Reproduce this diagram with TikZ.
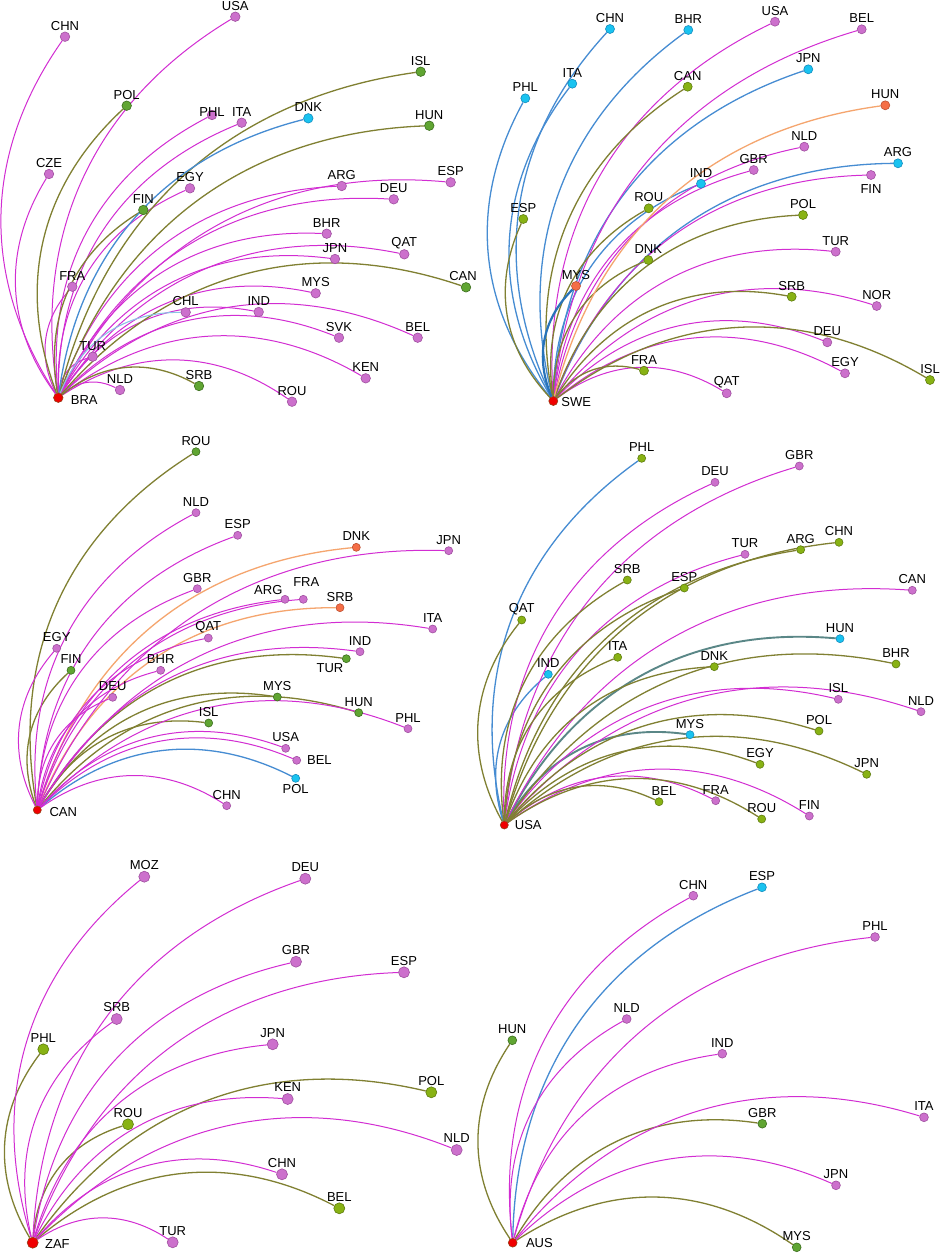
\documentclass[tikz,border=0pt]{standalone}
\usepackage{fontspec}
\setmainfont{Liberation Sans}
\pgfdeclarelayer{bgw}
\pgfdeclarelayer{edges}
\pgfsetlayers{bgw,edges,main}
\definecolor{pkf}{RGB}{204,112,204}
\definecolor{pkd}{RGB}{160,80,160}
\definecolor{dgf}{RGB}{96,165,50}
\definecolor{dgd}{RGB}{60,110,30}
\definecolor{ygf}{RGB}{136,178,20}
\definecolor{ygd}{RGB}{95,125,15}
\definecolor{blf}{RGB}{25,195,240}
\definecolor{bld}{RGB}{20,140,190}
\definecolor{orf}{RGB}{245,110,70}
\definecolor{ord}{RGB}{190,80,50}
\definecolor{rtf}{RGB}{240,0,0}
\definecolor{rtd}{RGB}{150,60,20}
\definecolor{emgc}{RGB}{210,45,210}
\definecolor{eolc}{RGB}{128,128,50}
\definecolor{eblc}{RGB}{70,140,210}
\definecolor{eorc}{RGB}{245,165,110}
\definecolor{elbc}{RGB}{140,195,230}
\definecolor{etlc}{RGB}{90,135,135}
\definecolor{ebtc}{RGB}{40,115,185}
\newcommand{\ctry}[5][0,11]{\node[#2] (#3) at (#4) {}; \node[lbl, shift={(#1)}] at (#4) {#5};}
\tikzset{
  nsz/.style={minimum size=4.5pt},
  nd/.style={circle,inner sep=0pt,line width=0.3pt,nsz},
  pk/.style={nd,fill=pkf,draw=pkd},
  dg/.style={nd,fill=dgf,draw=dgd},
  yg/.style={nd,fill=ygf,draw=ygd},
  bl/.style={nd,fill=blf,draw=bld},
  orn/.style={nd,fill=orf,draw=ord},
  rt/.style={nd,fill=rtf,draw=rtd},
  lbl/.style={font=\fontsize{6.5}{7.5}\selectfont,inner sep=0pt,text=black},
  bnd/.style={bend left=34},
  emg/.style={draw=emgc,line width=0.5pt},
  eol/.style={draw=eolc,line width=0.65pt},
  ebl/.style={draw=eblc,line width=0.65pt},
  eor/.style={draw=eorc,line width=0.65pt},
  elb/.style={draw=elbc,line width=0.55pt},
  etl/.style={draw=etlc,line width=0.95pt},
  ebt/.style={draw=ebtc,line width=1.1pt}
}
\begin{document}
\begin{tikzpicture}[x=0.5pt,y=0.5pt]
\useasboundingbox (0,0) rectangle (941,-1254);
\begin{pgfonlayer}{bgw}
\fill[white] (0,0) rectangle (941,-1254);
\end{pgfonlayer}

% ---------------- Panel a: BRA
\begin{scope}[nsz/.style={minimum size=4.75pt}]
\ctry[26,-2]{rt}{aBRA}{58.3,-397.7}{BRA}
\ctry{pk}{aCHN}{65,-36.7}{CHN}
\ctry{pk}{aUSA}{235.3,-16.7}{USA}
\ctry{dg}{aPOL}{126.7,-105.7}{POL}
\ctry{pk}{aCZE}{49,-174}{CZE}
\ctry[0,2.5]{pk}{aPHL}{212,-115}{PHL}
\ctry{pk}{aITA}{241.7,-122.7}{ITA}
\ctry{bl}{aDNK}{308.3,-118.3}{DNK}
\ctry{dg}{aISL}{420.7,-71.7}{ISL}
\ctry{dg}{aHUN}{429.3,-125.7}{HUN}
\ctry{pk}{aEGY}{190,-188.3}{EGY}
\ctry{dg}{aFIN}{143.3,-210}{FIN}
\ctry{pk}{aARG}{341.7,-186}{ARG}
\ctry{pk}{aESP}{450.7,-182.3}{ESP}
\ctry{pk}{aDEU}{393.7,-199.3}{DEU}
\ctry{pk}{aBHR}{326.7,-233.7}{BHR}
\ctry{pk}{aJPN}{335,-259}{JPN}
\ctry{pk}{aQAT}{404.3,-254.3}{QAT}
\ctry[-3,11]{dg}{aCAN}{466,-287.3}{CAN}
\ctry{pk}{aMYS}{315.7,-293.3}{MYS}
\ctry{pk}{aFRA}{72.3,-286.7}{FRA}
\ctry{pk}{aCHL}{185.7,-312.3}{CHL}
\ctry{pk}{aIND}{258.7,-312}{IND}
\ctry{pk}{aSVK}{339,-337.7}{SVK}
\ctry{pk}{aBEL}{417.7,-337.7}{BEL}
\ctry{pk}{aTUR}{92.7,-356.7}{TUR}
\ctry{pk}{aKEN}{365.7,-378.3}{KEN}
\ctry{pk}{aNLD}{120,-390}{NLD}
\ctry{dg}{aSRB}{199,-386}{SRB}
\ctry{pk}{aROU}{292,-401.7}{ROU}
\begin{pgfonlayer}{edges}
\foreach \t in {CHN,USA,CZE,PHL,ITA,EGY,ARG,ESP,DEU,BHR,JPN,QAT,MYS,FRA,IND,SVK,BEL,TUR,KEN,NLD,ROU}
  \draw[emg] (aBRA) to[bnd] (a\t);
\foreach \t in {POL,ISL,HUN,FIN,CAN,SRB}
  \draw[eol] (aBRA) to[bnd] (a\t);
\draw[ebl] (aBRA) to[bnd] (aDNK);
\draw[elb] (aBRA) to[bnd] (aCHL);
\end{pgfonlayer}
\end{scope}

% ---------------- Panel b: SWE
\begin{scope}[nsz/.style={minimum size=4.5pt}]
\ctry[23,-1]{rt}{bSWE}{553.3,-401}{SWE}
\ctry{bl}{bCHN}{610,-29}{CHN}
\ctry{bl}{bBHR}{688.3,-30}{BHR}
\ctry{pk}{bUSA}{775,-21.7}{USA}
\ctry{pk}{bBEL}{861.7,-29.3}{BEL}
\ctry{bl}{bPHL}{525.3,-98.3}{PHL}
\ctry{bl}{bITA}{572.3,-83.7}{ITA}
\ctry{yg}{bCAN}{687.7,-86.7}{CAN}
\ctry{bl}{bJPN}{808.3,-69.3}{JPN}
\ctry{orn}{bHUN}{885.3,-105.3}{HUN}
\ctry{pk}{bNLD}{804.3,-146.7}{NLD}
\ctry{pk}{bGBR}{753.7,-170}{GBR}
\ctry{bl}{bIND}{701,-183.7}{IND}
\ctry{bl}{bARG}{898,-163.3}{ARG}
\ctry[0,-14.3]{pk}{bFIN}{871,-175}{FIN}
\ctry{yg}{bESP}{523.3,-219}{ESP}
\ctry{yg}{bROU}{648.7,-208.3}{ROU}
\ctry{yg}{bPOL}{803,-215}{POL}
\ctry{yg}{bDNK}{648.3,-260}{DNK}
\ctry{pk}{bTUR}{835.7,-251.7}{TUR}
\ctry{orn}{bMYS}{576,-286}{MYS}
\ctry{yg}{bSRB}{791.7,-296.7}{SRB}
\ctry{pk}{bNOR}{876.7,-306}{NOR}
\ctry{pk}{bDEU}{827.3,-342.3}{DEU}
\ctry{pk}{bEGY}{845,-373.3}{EGY}
\ctry{yg}{bISL}{930,-380}{ISL}
\ctry{yg}{bFRA}{644,-370.7}{FRA}
\ctry{pk}{bQAT}{726.7,-393.3}{QAT}
\begin{pgfonlayer}{edges}
\foreach \t in {CHN,BHR,PHL,ITA,JPN,IND,ARG}
  \draw[ebl] (bSWE) to[bnd] (b\t);
\foreach \t in {USA,BEL,NLD,GBR,FIN,TUR,NOR,DEU,EGY,QAT}
  \draw[emg] (bSWE) to[bnd] (b\t);
\foreach \t in {CAN,ESP,ROU,POL,DNK,SRB,ISL,FRA}
  \draw[eol] (bSWE) to[bnd] (b\t);
\draw[eor] (bSWE) to[bnd] (bHUN);
\draw[ebt] (bSWE) to[bnd] (bMYS);
\end{pgfonlayer}
\end{scope}

% ---------------- Panel c: CAN
\begin{scope}[nsz/.style={minimum size=4pt}]
\ctry[26,-2]{rt}{cCAN}{37.3,-810}{CAN}
\ctry{dg}{cROU}{196,-451.7}{ROU}
\ctry{pk}{cNLD}{196,-512.7}{NLD}
\ctry{pk}{cESP}{237.7,-535.3}{ESP}
\ctry{orn}{cDNK}{356.3,-547.3}{DNK}
\ctry{pk}{cJPN}{448.7,-550.7}{JPN}
\ctry{pk}{cGBR}{197.3,-588.7}{GBR}
\ctry[-16.7,9.3]{pk}{cARG}{285,-599.3}{ARG}
\ctry[3,17.7]{pk}{cFRA}{303.3,-599.3}{FRA}
\ctry{orn}{cSRB}{340,-607.7}{SRB}
\ctry{pk}{cQAT}{208.3,-638}{QAT}
\ctry{pk}{cITA}{432.7,-629}{ITA}
\ctry{pk}{cEGY}{56.7,-648.3}{EGY}
\ctry{pk}{cIND}{360,-651.7}{IND}
\ctry{dg}{cFIN}{71,-670.3}{FIN}
\ctry{pk}{cBHR}{160.7,-670.3}{BHR}
\ctry[-16.3,-9.3]{dg}{cTUR}{346.3,-658.7}{TUR}
\ctry{pk}{cDEU}{112.7,-697.3}{DEU}
\ctry{dg}{cMYS}{277.3,-697}{MYS}
\ctry{dg}{cHUN}{358.7,-712.7}{HUN}
\ctry{pk}{cPHL}{408,-728.7}{PHL}
\ctry{dg}{cISL}{208.7,-723}{ISL}
\ctry{pk}{cUSA}{285.7,-748.3}{USA}
\ctry[22.7,0]{pk}{cBEL}{296.7,-760.3}{BEL}
\ctry[0,-11]{bl}{cPOL}{295.7,-778.3}{POL}
\ctry{pk}{cCHN}{226.7,-805.7}{CHN}
\begin{pgfonlayer}{edges}
\foreach \t in {ROU,FIN,TUR,MYS,HUN,ISL}
  \draw[eol] (cCAN) to[bnd] (c\t);
\foreach \t in {DNK,SRB}
  \draw[eor] (cCAN) to[bnd] (c\t);
\draw[ebl] (cCAN) to[bnd] (cPOL);
\foreach \t in {NLD,ESP,JPN,GBR,ARG,FRA,QAT,ITA,EGY,IND,BHR,DEU,PHL,USA,BEL,CHN}
  \draw[emg] (cCAN) to[bnd] (c\t);
\end{pgfonlayer}
\end{scope}

% ---------------- Panel d: USA
\begin{scope}[nsz/.style={minimum size=4pt}]
\ctry[24,0]{rt}{dUSA}{504.3,-825}{USA}
\ctry{yg}{dPHL}{641.7,-458.3}{PHL}
\ctry{pk}{dDEU}{715,-482.3}{DEU}
\ctry{pk}{dGBR}{799.3,-466}{GBR}
\ctry{yg}{dCHN}{839,-542.3}{CHN}
\ctry{yg}{dARG}{800.7,-549.7}{ARG}
\ctry{pk}{dTUR}{745,-554.3}{TUR}
\ctry{yg}{dSRB}{627.3,-580}{SRB}
\ctry{yg}{dESP}{684.3,-588}{ESP}
\ctry{pk}{dCAN}{912.3,-590.3}{CAN}
\ctry{yg}{dQAT}{521.7,-620}{QAT}
\ctry{bl}{dHUN}{840,-638.7}{HUN}
\ctry{yg}{dITA}{617.7,-657.3}{ITA}
\ctry{bl}{dIND}{548.3,-674.3}{IND}
\ctry{yg}{dDNK}{714.3,-666.7}{DNK}
\ctry{yg}{dBHR}{896,-664}{BHR}
\ctry{pk}{dISL}{838.3,-699.3}{ISL}
\ctry{pk}{dNLD}{921,-711.7}{NLD}
\ctry{bl}{dMYS}{690,-734.7}{MYS}
\ctry{yg}{dPOL}{819,-731}{POL}
\ctry{yg}{dEGY}{760,-764.3}{EGY}
\ctry{yg}{dJPN}{866.7,-774.3}{JPN}
\ctry[5,11]{yg}{dBEL}{659,-801.7}{BEL}
\ctry{pk}{dFRA}{715.7,-800.7}{FRA}
\ctry{yg}{dROU}{761.7,-819}{ROU}
\ctry{pk}{dFIN}{809.3,-816}{FIN}
\begin{pgfonlayer}{edges}
\foreach \t in {PHL,IND}
  \draw[ebl] (dUSA) to[bnd] (d\t);
\foreach \t in {HUN,MYS}
  \draw[etl] (dUSA) to[bnd] (d\t);
\foreach \t in {DEU,GBR,TUR,CAN,ISL,NLD,FRA,FIN}
  \draw[emg] (dUSA) to[bnd] (d\t);
\foreach \t in {CHN,ARG,SRB,ESP,QAT,ITA,DNK,BHR,POL,EGY,JPN,BEL,ROU}
  \draw[eol] (dUSA) to[bnd] (d\t);
\end{pgfonlayer}
\end{scope}

% ---------------- Panel e: ZAF
\begin{scope}[nsz/.style={minimum size=5.5pt}]
\ctry[24.7,-1.7]{rt}{eZAF}{32.7,-1242.7}{ZAF}
\ctry[0,11.5]{pk}{eMOZ}{144.3,-876.7}{MOZ}
\ctry[0,11.5]{pk}{eDEU}{305.3,-878.7}{DEU}
\ctry[0,11.5]{pk}{eGBR}{296,-961.7}{GBR}
\ctry[0,11.5]{pk}{eESP}{404,-972.3}{ESP}
\ctry[0,11.5]{pk}{eSRB}{116.7,-1019}{SRB}
\ctry[0,11.5]{yg}{ePHL}{43.3,-1049.3}{PHL}
\ctry[0,11.5]{pk}{eJPN}{272.7,-1044.3}{JPN}
\ctry[0,11.5]{yg}{ePOL}{431.3,-1092.3}{POL}
\ctry[0,11.5]{pk}{eKEN}{287.7,-1099}{KEN}
\ctry[0,11.5]{yg}{eROU}{128,-1124.3}{ROU}
\ctry[0,11.5]{pk}{eNLD}{456.7,-1150}{NLD}
\ctry[0,11.5]{pk}{eCHN}{282,-1174.3}{CHN}
\ctry[0,11.5]{yg}{eBEL}{339.3,-1208.3}{BEL}
\ctry[0,11.5]{pk}{eTUR}{172.7,-1242.3}{TUR}
\begin{pgfonlayer}{edges}
\foreach \t in {PHL,POL,ROU,BEL}
  \draw[eol] (eZAF) to[bnd] (e\t);
\foreach \t in {MOZ,DEU,GBR,ESP,SRB,JPN,KEN,NLD,CHN,TUR}
  \draw[emg] (eZAF) to[bnd] (e\t);
\end{pgfonlayer}
\end{scope}

% ---------------- Panel f: AUS
\begin{scope}[nsz/.style={minimum size=4.4pt}]
\ctry[26.7,0]{rt}{fAUS}{512.7,-1242.7}{AUS}
\ctry{pk}{fCHN}{693.3,-895.7}{CHN}
\ctry{bl}{fESP}{762,-887.3}{ESP}
\ctry{pk}{fPHL}{875,-937}{PHL}
\ctry{pk}{fNLD}{626.7,-1019}{NLD}
\ctry{dg}{fHUN}{512.3,-1040.3}{HUN}
\ctry{pk}{fIND}{722.3,-1053.7}{IND}
\ctry{pk}{fITA}{924,-1117.3}{ITA}
\ctry{dg}{fGBR}{762.3,-1123.7}{GBR}
\ctry{pk}{fJPN}{836,-1185.3}{JPN}
\ctry{dg}{fMYS}{796.7,-1247.3}{MYS}
\begin{pgfonlayer}{edges}
\draw[ebl] (fAUS) to[bnd] (fESP);
\foreach \t in {HUN,GBR,MYS}
  \draw[eol] (fAUS) to[bnd] (f\t);
\foreach \t in {CHN,PHL,NLD,IND,ITA,JPN}
  \draw[emg] (fAUS) to[bnd] (f\t);
\end{pgfonlayer}
\end{scope}
\end{tikzpicture}
\end{document}
